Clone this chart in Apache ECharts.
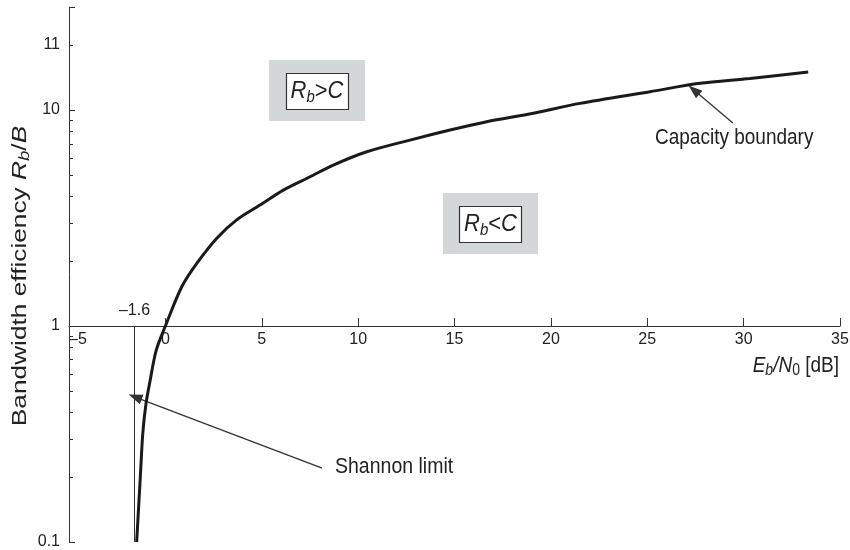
<!DOCTYPE html>
<html>
<head>
<meta charset="utf-8">
<script src="https://cdn.jsdelivr.net/npm/echarts@6/dist/echarts.min.js"></script>
<style>
  html, body { margin: 0; padding: 0; background: #fff; }
  #chart { width: 850px; height: 550px; }
</style>
</head>
<body>
<div id="chart"></div>
<script>
// Capacity boundary: Eb/N0 [dB] against bandwidth efficiency Rb/B
const ebn0Db = [-1.49, -1.30, -1.17, -1.00, -0.79, -0.48, 0, 0.85, 1.63, 2.67, 3.70, 4.91,
  6.12, 7.51, 8.71, 10.45, 12.69, 14.77, 16.67, 19.09, 21.51, 25.14, 27.73, 30.33, 33.35];
const efficiency = [0.1, 0.2, 0.32, 0.44, 0.56, 0.77, 1, 1.52, 1.95, 2.55, 3.10, 3.63,
  4.26, 4.91, 5.56, 6.41, 7.26, 8.08, 8.83, 9.66, 10.74, 12.16, 13.3, 14.0, 15.0];

// Axis ranges and ticks
const xMin = -5, xMax = 35, xStep = 5;
const yMin = 0.1, yMax = 30;
const yMajorTicks = [0.1, 1, 10];
const yMajorLabels = ['0.1', '1', '10'];
const yMinorTicks = [0.2, 0.3, 0.4, 0.5, 0.6, 0.7, 0.8, 0.9, 2, 3, 4, 5, 6, 7, 8, 9];
const yExtraTicks = [20];
const yExtraLabels = ['11'];

// Shannon limit
const shannonLimitDb = -1.6;

// Arrow annotations [tail, tip] in data units
const capacityArrow = [[29.44, 8.71], [27.42, 12.38]];
const shannonArrow = [[8.13, 0.22], [-1.57, 0.469]];

const FONT = '"Liberation Sans", Arial, Helvetica, sans-serif';
const INK = '#222';
const AXIS = '#333';
const TICK_FONT = 16;

const grid = { left: 69, right: 10, top: 7, bottom: 8 };
const plotH = 550 - grid.top - grid.bottom;
// distance from the bottom of the plot up to Rb/B = 1, where the x axis sits
const xAxisLift = plotH * (0 - Math.log10(yMin)) / (Math.log10(yMax) - Math.log10(yMin));

const fmtNum = v => (v < 0 ? '\u2013' + Math.abs(v) : String(v));

const chart = echarts.init(document.getElementById('chart'), null, { renderer: 'canvas' });

const tickData = yMinorTicks.map(v => [xMin, v]).concat(yExtraTicks.map(v => [xMin, v]));

const option = {
  animation: false,
  backgroundColor: '#fff',
  grid: Object.assign({ outerBoundsMode: 'none', containLabel: false }, grid),
  xAxis: {
    type: 'value',
    min: xMin, max: xMax, interval: xStep,
    offset: -xAxisLift,
    axisLine: { onZero: false, lineStyle: { color: AXIS, width: 1 } },
    axisTick: { inside: true, length: 8, lineStyle: { color: AXIS } },
    axisLabel: {
      color: INK, fontSize: TICK_FONT, fontFamily: FONT, margin: 6,
      alignMinLabel: 'left',
      formatter: v => fmtNum(v)
    },
    splitLine: { show: false }
  },
  yAxis: {
    type: 'log', logBase: 10,
    min: yMin, max: yMax,
    axisLine: { show: true, onZero: false, lineStyle: { color: AXIS, width: 1 } },
    axisTick: { show: true, inside: true, length: 6, lineStyle: { color: AXIS } },
    axisLabel: {
      color: INK, fontSize: TICK_FONT, fontFamily: FONT, margin: 9,
      formatter: v => {
        for (let i = 0; i < yMajorTicks.length; i++) {
          if (Math.abs(Math.log10(v) - Math.log10(yMajorTicks[i])) < 1e-6) return yMajorLabels[i];
        }
        return '';
      }
    },
    splitLine: { show: false }
  },
  series: [
    {
      type: 'line',
      data: ebn0Db.map((x, i) => [x, efficiency[i]]),
      showSymbol: false,
      symbol: 'none',
      smooth: 0.3,
      lineStyle: { color: '#1a1a1a', width: 3 },
      z: 5,
      markLine: {
        silent: true,
        animation: false,
        precision: 2,
        data: [
          [
            { coord: [shannonLimitDb, yMin], symbol: 'none', lineStyle: { type: 'solid', color: AXIS, width: 1 } },
            { coord: [shannonLimitDb, 1], symbol: 'none',
              label: { show: true, position: 'end', formatter: fmtNum(shannonLimitDb), color: INK,
                       fontSize: TICK_FONT, fontFamily: FONT, distance: 7 } }
          ],
          [
            { coord: capacityArrow[0], symbol: 'none', lineStyle: { type: 'solid', color: AXIS, width: 1.3 }, label: { show: false } },
            { coord: capacityArrow[1], symbol: 'triangle', symbolSize: [10, 14], label: { show: false } }
          ],
          [
            { coord: shannonArrow[0], symbol: 'none', lineStyle: { type: 'solid', color: AXIS, width: 1.3 }, label: { show: false } },
            { coord: shannonArrow[1], symbol: 'triangle', symbolSize: [10, 14], label: { show: false } }
          ]
        ]
      }
    },
    {
      // minor ticks of the log axis, plus the extra labelled tick near the top
      type: 'custom',
      data: tickData,
      encode: { x: 0, y: 1 },
      clip: false,
      silent: true,
      z: 4,
      renderItem: (params, api) => {
        const p = api.coord([api.value(0), api.value(1)]);
        const y = Math.round(p[1]) + 0.5;
        const x = Math.round(p[0]);
        const k = params.dataIndex - yMinorTicks.length;
        const children = [{
          type: 'line',
          shape: { x1: x, y1: y, x2: x + 4, y2: y },
          style: { stroke: AXIS, lineWidth: 1 }
        }];
        if (k >= 0) {
          children.push({
            type: 'text',
            style: { text: yExtraLabels[k], x: x - 9, y: p[1], align: 'right', verticalAlign: 'middle',
                     fontSize: TICK_FONT, fontFamily: FONT, fill: INK }
          });
        }
        return { type: 'group', children };
      }
    }
  ],
  graphic: [
    // y axis title
    {
      type: 'text', x: 20, y: 276, rotation: Math.PI / 2, scaleX: 1.25,
      style: {
        text: 'Bandwidth efficiency {i|R}{s|b}/{i|B}',
        align: 'center', verticalAlign: 'middle',
        fontSize: 21, fontFamily: FONT, fill: INK,
        rich: {
          i: { fontSize: 21, fontStyle: 'italic', fontFamily: FONT, fill: INK },
          s: { fontSize: 15, fontStyle: 'italic', fontFamily: FONT, fill: INK, padding: [10, 0, 0, 0] }
        }
      }
    },
    // x axis title
    {
      type: 'text', x: 839, y: 366, scaleY: 1.12,
      style: {
        text: '{i|E}{s|b}{i|/N}{t|0} [dB]',
        align: 'right', verticalAlign: 'middle',
        fontSize: 19, fontFamily: FONT, fill: INK,
        rich: {
          i: { fontSize: 19, fontStyle: 'italic', fontFamily: FONT, fill: INK },
          s: { fontSize: 14, fontStyle: 'italic', fontFamily: FONT, fill: INK, padding: [9, 0, 0, 0] },
          t: { fontSize: 14, fontFamily: FONT, fill: INK, padding: [9, 0, 0, 0] }
        }
      }
    },
    // region label: Rb > C
    { type: 'rect', shape: { x: 269, y: 60, width: 96, height: 61 }, style: { fill: '#d4d7d8' } },
    { type: 'rect', shape: { x: 286.5, y: 73.5, width: 62, height: 36 }, style: { fill: '#fff', stroke: AXIS, lineWidth: 1.2 } },
    {
      type: 'text', x: 317, y: 91, scaleY: 1.1,
      style: {
        text: '{i|R}{s|b}{n|>}{i|C}', align: 'center', verticalAlign: 'middle',
        rich: {
          i: { fontSize: 22, fontStyle: 'italic', fontFamily: FONT, fill: INK },
          n: { fontSize: 22, fontFamily: FONT, fill: INK },
          s: { fontSize: 15, fontStyle: 'italic', fontFamily: FONT, fill: INK, padding: [11, 0, 0, 0] }
        }
      }
    },
    // region label: Rb < C
    { type: 'rect', shape: { x: 443, y: 193, width: 95, height: 61 }, style: { fill: '#d4d7d8' } },
    { type: 'rect', shape: { x: 459.5, y: 206.5, width: 62, height: 36 }, style: { fill: '#fff', stroke: AXIS, lineWidth: 1.2 } },
    {
      type: 'text', x: 490.5, y: 224, scaleY: 1.1,
      style: {
        text: '{i|R}{s|b}{n|<}{i|C}', align: 'center', verticalAlign: 'middle',
        rich: {
          i: { fontSize: 22, fontStyle: 'italic', fontFamily: FONT, fill: INK },
          n: { fontSize: 22, fontFamily: FONT, fill: INK },
          s: { fontSize: 15, fontStyle: 'italic', fontFamily: FONT, fill: INK, padding: [11, 0, 0, 0] }
        }
      }
    },
    // curve annotations
    {
      type: 'text', x: 655, y: 138, scaleY: 1.12,
      style: { text: 'Capacity boundary', align: 'left', verticalAlign: 'middle',
               fontSize: 19, fontFamily: FONT, fill: INK }
    },
    {
      type: 'text', x: 335, y: 467, scaleY: 1.12,
      style: { text: 'Shannon limit', align: 'left', verticalAlign: 'middle',
               fontSize: 19.5, fontFamily: FONT, fill: INK }
    }
  ]
};

chart.setOption(option);
</script>
</body>
</html>
